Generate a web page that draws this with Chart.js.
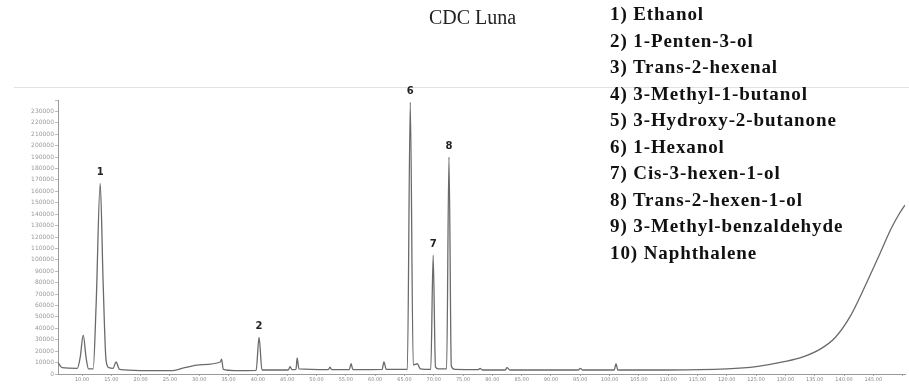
<!DOCTYPE html>
<html>
<head>
<meta charset="utf-8">
<script src="https://cdn.jsdelivr.net/npm/chart.js@4.4.1/dist/chart.umd.min.js"></script>
<style>
  html, body { margin: 0; padding: 0; background: #fff; }
  #wrap { position: relative; width: 909px; height: 386px; overflow: hidden; }
  #chart { position: absolute; left: 0; top: 0; }
  #frame { position: absolute; left: 14px; top: 87px; width: 895px; border-top: 1px solid #e2e2e2; }
  #title { position: absolute; left: 429px; top: 6px; font: 20px "Liberation Serif", serif; color: #222; }
  #compounds { position: absolute; left: 610px; top: 1px; font: bold 19px "Liberation Serif", serif;
               letter-spacing: 0.9px; color: #111; line-height: 26.5px; white-space: nowrap; }
</style>
</head>
<body>
<div id="wrap">
  <div id="frame"></div>
  <canvas id="chart" width="909" height="386"></canvas>
  <div id="title">CDC Luna</div>
  <div id="compounds"></div>
</div>
<script>
// Compound list shown at the top right
const compoundNames = [
    '1) Ethanol',
    '2) 1-Penten-3-ol',
    '3) Trans-2-hexenal',
    '4) 3-Methyl-1-butanol',
    '5) 3-Hydroxy-2-butanone',
    '6) 1-Hexanol',
    '7) Cis-3-hexen-1-ol',
    '8) Trans-2-hexen-1-ol',
    '9) 3-Methyl-benzaldehyde',
    '10) Naphthalene'
];

// Chromatogram trace (retention time in min, detector response)
const retentionTimes = [
    5.9, 6.6, 9.2, 9.7, 10.2, 10.7, 11.1, 11.9, 12.4, 13.1, 13.6, 14.1, 14.6, 15.3, 15.8, 16.4,
    20.0, 25.5, 27.5, 30.0, 33.6, 33.8, 34.1, 36.0, 39.7, 40.2, 40.7, 45.2, 45.5, 45.8, 46.5, 46.7,
    47.0, 52.0, 52.3, 52.6, 55.6, 55.9, 56.2, 61.2, 61.5, 61.9, 65.5, 66.0, 66.5, 67.2, 67.7, 69.5,
    69.9, 70.3, 70.8, 72.2, 72.6, 73.0, 73.6, 77.6, 77.9, 78.3, 82.2, 82.5, 83.0, 94.7, 95.0, 95.4,
    100.8, 101.1, 101.4, 110.0, 120.0, 125.0, 130.0, 133.0, 136.0, 138.5, 141.0, 143.5, 146.0, 148.0,
    149.5, 150.4
];
const signalValues = [
    10000, 5500, 5000, 15000, 34000, 14000, 4500, 4500, 60000, 167000, 80000, 12000, 5500, 5000, 10500, 4000,
    3000, 3000, 5500, 8000, 10500, 13000, 4000, 3000, 3200, 32000, 3500, 3500, 6500, 3800, 4000, 14000,
    4500, 3800, 6000, 3800, 3800, 9000, 3800, 4000, 10500, 4000, 4000, 238000, 8000, 9000, 4500, 4000,
    104000, 6000, 4500, 4500, 190000, 7000, 4000, 3800, 5000, 3500, 3500, 5500, 3500, 3500, 5000, 3500,
    3500, 9000, 3500, 3500, 4500, 6500, 11000, 15000, 22000, 32000, 50000, 76000, 104000, 127000,
    141000, 148000
];

// Numbered peaks
const peakNumbers = ['1', '2', '6', '7', '8'];
const peakTimes = [13.1, 40.2, 66.0, 69.9, 72.6];

// Axis ticks
const yTickStep = 10000;
const yTickMax = 230000;
const xTickStep = 5;
const xTickFirst = 10;
const xTickLast = 145;

document.getElementById('compounds').innerHTML = compoundNames.map(n => '<div>' + n + '</div>').join('');

// Draw the peak numbers above the peak tops
const peakLabelPlugin = {
    id: 'peakLabels',
    afterDatasetsDraw(chart) {
        const { ctx, scales } = chart;
        ctx.save();
        ctx.font = 'bold 10px "DejaVu Sans", sans-serif';
        ctx.fillStyle = '#222';
        ctx.textAlign = 'center';
        ctx.textBaseline = 'middle';
        peakNumbers.forEach((label, i) => {
            const idx = retentionTimes.indexOf(peakTimes[i]);
            const x = scales.x.getPixelForValue(peakTimes[i]);
            const y = scales.y.getPixelForValue(signalValues[idx]);
            ctx.fillText(label, x, y - 11);
        });
        ctx.restore();
    }
};

new Chart(document.getElementById('chart'), {
    type: 'line',
    data: {
        datasets: [{
            data: retentionTimes.map((t, i) => ({ x: t, y: signalValues[i] })),
            borderColor: '#6a6a6a',
            borderWidth: 1.3,
            pointRadius: 0,
            cubicInterpolationMode: 'monotone',
            fill: false
        }]
    },
    options: {
        responsive: false,
        animation: false,
        layout: { padding: { top: 100, right: 4, left: 0, bottom: 0 } },
        plugins: {
            legend: { display: false },
            tooltip: { enabled: false }
        },
        scales: {
            x: {
                type: 'linear',
                min: 5.9,
                max: 150.4,
                afterFit(scale) { scale.height = 12; },
                border: { color: '#9a9a9a', dash: [3, 2] },
                grid: { display: true, drawOnChartArea: false, tickLength: 2, color: '#aaa' },
                ticks: {
                    stepSize: xTickStep,
                    includeBounds: false,
                    autoSkip: false,
                    maxRotation: 0,
                    padding: 1,
                    color: '#888',
                    font: { size: 5, family: '"DejaVu Sans", sans-serif' },
                    callback: v => (v >= xTickFirst && v <= xTickLast) ? v.toFixed(2) : ''
                }
            },
            y: {
                min: 0,
                max: 240000,
                afterFit(scale) { scale.width = 58; },
                border: { color: '#9a9a9a' },
                grid: { display: true, drawOnChartArea: false, tickLength: 3, color: '#bbb' },
                ticks: {
                    stepSize: yTickStep,
                    autoSkip: false,
                    padding: 1,
                    color: '#999',
                    font: { size: 6, family: '"DejaVu Sans", sans-serif' },
                    callback: v => v <= yTickMax ? String(v) : ''
                }
            }
        }
    },
    plugins: [peakLabelPlugin]
});
</script>
</body>
</html>
